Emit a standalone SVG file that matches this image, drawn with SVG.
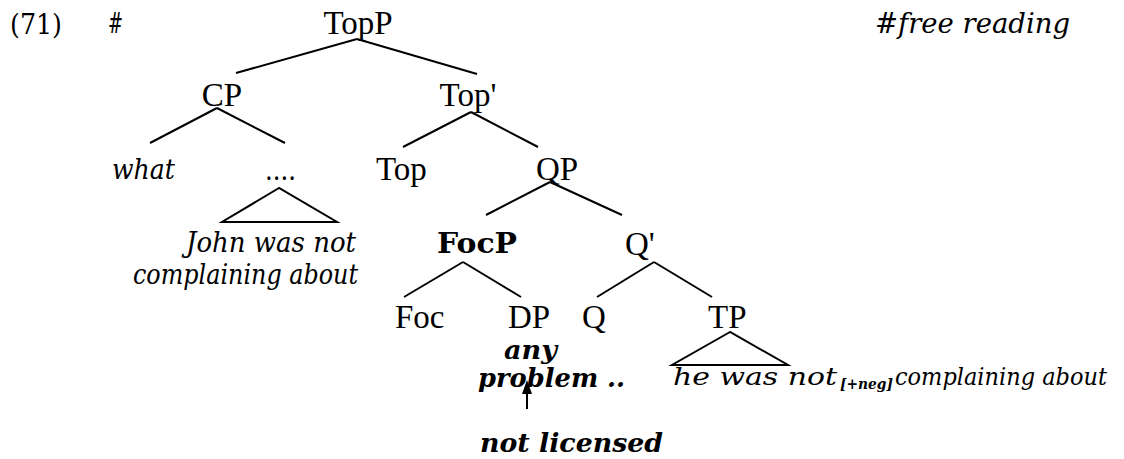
<svg xmlns="http://www.w3.org/2000/svg" width="1124" height="459" viewBox="0 0 1124 459">
<style>
.n{font-family:"Liberation Serif","Times New Roman",serif;font-size:33px;fill:#000}
.nb{font-family:"DejaVu Serif","Liberation Serif",serif;font-size:28px;font-weight:bold;fill:#000}
.i{font-family:"DejaVu Serif","Liberation Serif",serif;font-style:italic;font-size:27px;fill:#000}
.i2{font-family:"DejaVu Serif","Liberation Serif",serif;font-style:italic;font-size:25px;fill:#000}
.r{font-family:"DejaVu Serif","Liberation Serif",serif;font-size:27px;fill:#000}
.bi{font-family:"DejaVu Serif","Liberation Serif",serif;font-style:italic;font-weight:bold;font-size:26px;fill:#000}
.sub{font-family:"DejaVu Serif","Liberation Serif",serif;font-style:italic;font-weight:bold;font-size:15px;fill:#000}
line,polygon.t{stroke:#000;stroke-width:2;fill:none}
</style>
<g id="header">
<text class="r" x="10" y="34" textLength="52" lengthAdjust="spacingAndGlyphs">(71)</text>
<text class="r" x="108" y="33" textLength="15" lengthAdjust="spacingAndGlyphs">#</text>
<text class="i" x="875" y="33" textLength="195" lengthAdjust="spacingAndGlyphs">#free reading</text>
</g>
<g id="connectors">
<line x1="357" y1="39" x2="236" y2="73"/>
<line x1="357" y1="39" x2="477" y2="74"/>
<line x1="217" y1="108" x2="150" y2="143"/>
<line x1="217" y1="108" x2="285" y2="143"/>
<line x1="471" y1="112" x2="403" y2="147"/>
<line x1="471" y1="112" x2="538" y2="147"/>
<line x1="550" y1="182" x2="486" y2="215"/>
<line x1="550" y1="182" x2="622" y2="215"/>
<line x1="463" y1="262" x2="404" y2="297"/>
<line x1="463" y1="262" x2="521" y2="297"/>
<line x1="654" y1="262" x2="597" y2="297"/>
<line x1="654" y1="262" x2="712" y2="297"/>
<polygon class="t" points="279,188 222,222 337,222"/>
<polygon class="t" points="730,332 672,365 788,365"/>
<line x1="527" y1="409" x2="527" y2="392"/>
<polygon points="527,380 522,394 532,394" fill="#000"/>
</g>
<g id="TopP"><text class="n" x="358" y="34" text-anchor="middle">TopP</text></g>
<g id="CP"><text class="n" x="222" y="106" text-anchor="middle">CP</text></g>
<g id="Top1"><text class="n" x="468" y="106" text-anchor="middle">Top'</text></g>
<g id="what"><text class="i" x="112" y="179" textLength="63" lengthAdjust="spacingAndGlyphs">what</text></g>
<g id="dots"><text class="r" x="265" y="180" textLength="31" lengthAdjust="spacingAndGlyphs">....</text></g>
<g id="Top"><text class="n" x="376" y="180">Top</text></g>
<g id="QP"><text class="n" x="557" y="180" text-anchor="middle">QP</text></g>
<g id="john">
<text class="i" x="186" y="252" textLength="170" lengthAdjust="spacingAndGlyphs">John was not</text>
<text class="i" x="133" y="284" textLength="225" lengthAdjust="spacingAndGlyphs">complaining about</text>
</g>
<g id="FocP"><text class="nb" x="437" y="253" textLength="80" lengthAdjust="spacingAndGlyphs">FocP</text></g>
<g id="Qbar"><text class="n" x="625" y="255">Q'</text></g>
<g id="Foc"><text class="n" x="395" y="328">Foc</text></g>
<g id="DP"><text class="n" x="508" y="328">DP</text></g>
<g id="Q"><text class="n" x="582" y="328">Q</text></g>
<g id="TP"><text class="n" x="708" y="328">TP</text></g>
<g id="anyproblem">
<text class="bi" x="504" y="359" textLength="53" lengthAdjust="spacingAndGlyphs">any</text>
<text class="bi" x="478" y="387" textLength="147" lengthAdjust="spacingAndGlyphs">problem ..</text>
</g>
<g id="notlicensed"><text class="bi" x="480" y="452" textLength="183" lengthAdjust="spacingAndGlyphs">not licensed</text></g>
<g id="tp-content">
<text class="i2" x="673" y="385" textLength="164" lengthAdjust="spacingAndGlyphs">he was not</text>
<text class="sub" x="840" y="389" textLength="53" lengthAdjust="spacingAndGlyphs">[+neg]</text>
<text class="i2" x="895" y="385" textLength="212" lengthAdjust="spacingAndGlyphs">complaining about</text>
</g>
</svg>
